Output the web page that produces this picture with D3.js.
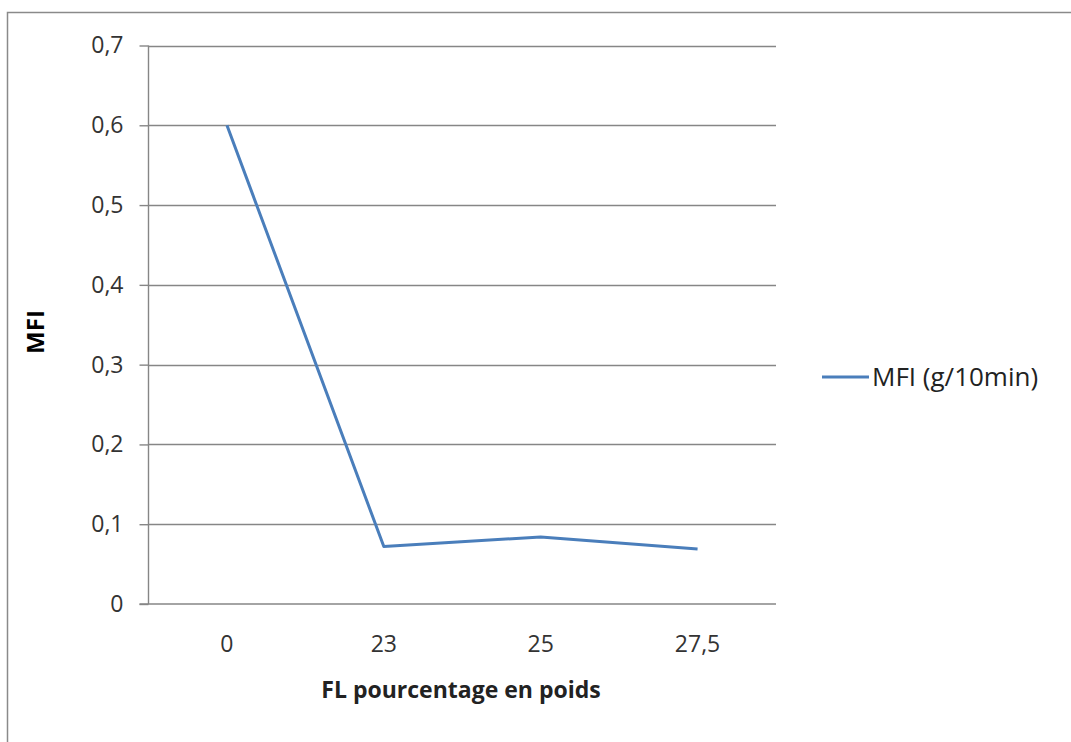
<!DOCTYPE html>
<html>
<head>
<meta charset="utf-8">
<script src="https://cdn.jsdelivr.net/npm/d3@7"></script>
<style>
  html, body { margin: 0; padding: 0; background: #fff; }
  svg { display: block; }
  text { font-family: "Open Sans", "Liberation Sans", sans-serif; }
</style>
</head>
<body>
<script>
const categories = ["0", "23", "25", "27,5"];
const seriesName = "MFI (g/10min)";
const mfiValues = [0.6, 0.072, 0.084, 0.069];
const yTicks = [0, 0.1, 0.2, 0.3, 0.4, 0.5, 0.6, 0.7];
const yTickLabels = ["0", "0,1", "0,2", "0,3", "0,4", "0,5", "0,6", "0,7"];

const W = 1071, H = 742;
const svg = d3.select("body").append("svg").attr("width", W).attr("height", H);

// outer chart border
svg.append("rect").attr("x", 7.5).attr("y", 12.5).attr("width", W + 10).attr("height", H + 10)
  .attr("fill", "#fff").attr("stroke", "#8a8a8a").attr("stroke-width", 1.5);

const pLeft = 148.5, pRight = 776, pTop = 45.5, pBottom = 604;

const x = d3.scaleBand().domain(categories).range([pLeft, pRight]);
const y = d3.scaleLinear().domain([0, 0.7]).range([pBottom, pTop]);

// gridlines
svg.append("g").selectAll("line").data(yTicks.filter(d => d > 0)).join("line")
  .attr("x1", pLeft).attr("x2", pRight)
  .attr("y1", d => Math.round(y(d)) + 0.5).attr("y2", d => Math.round(y(d)) + 0.5)
  .attr("stroke", "#868686").attr("stroke-width", 1.4);

// y axis
const yAxis = d3.axisLeft(y).tickValues(yTicks).tickSize(9).tickPadding(16)
  .tickFormat((d, i) => yTickLabels[i]);
const gy = svg.append("g").attr("transform", `translate(${pLeft},0)`).call(yAxis);
gy.select(".domain").attr("stroke", "#868686").attr("stroke-width", 1.4).attr("d", `M0,${pTop}V${pBottom}`);
gy.selectAll(".tick line").attr("stroke", "#868686").attr("stroke-width", 1.4);
gy.selectAll(".tick text").attr("font-size", 23).attr("fill", "#333")
  .attr("font-family", "'Open Sans', sans-serif");

// x axis
const xAxis = d3.axisBottom(x).tickSize(0).tickPadding(32);
const gx = svg.append("g").attr("transform", `translate(0,${pBottom})`).call(xAxis);
gx.select(".domain").attr("stroke", "#868686").attr("stroke-width", 1.6).attr("d", `M${pLeft - 9},0H${pRight}`);
gx.selectAll(".tick text").attr("font-size", 23).attr("fill", "#333")
  .attr("font-family", "'Open Sans', sans-serif");

// line
const line = d3.line().x((d, i) => x(categories[i]) + x.bandwidth() / 2).y(d => y(d));
svg.append("path").datum(mfiValues).attr("d", line)
  .attr("fill", "none").attr("stroke", "#4a7ebb").attr("stroke-width", 3)
  .attr("stroke-linejoin", "round");

// axis titles
svg.append("text").attr("x", 461).attr("y", 698).attr("text-anchor", "middle")
  .attr("font-size", 23).attr("font-weight", "bold").attr("fill", "#222")
  .text("FL pourcentage en poids");
svg.append("text").attr("transform", `translate(44,332) rotate(-90)`)
  .attr("text-anchor", "middle").attr("font-size", 24).attr("font-weight", "bold").attr("fill", "#000")
  .text("MFI");

// legend
svg.append("line").attr("x1", 822).attr("x2", 869).attr("y1", 377).attr("y2", 377)
  .attr("stroke", "#4a7ebb").attr("stroke-width", 3);
svg.append("text").attr("x", 872).attr("y", 386).attr("font-size", 26).attr("fill", "#222")
  .text(seriesName);
</script>
</body>
</html>
